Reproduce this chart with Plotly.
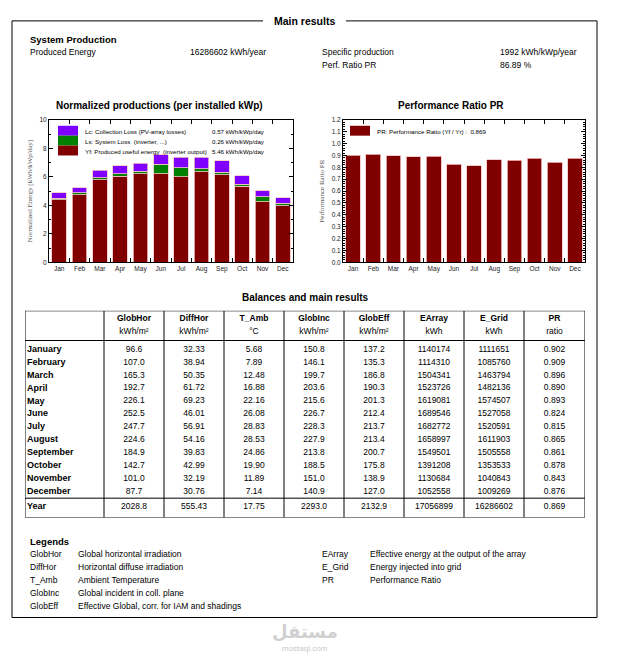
import plotly.graph_objects as go

W, H = 617, 667
OFF = 8                      # default page body margin
WF, HF = W - OFF, H - OFF    # figure size so that the page fits the window
FONT = "Liberation Sans"
SERIF = "Liberation Serif"

# ---------------- data ----------------
months = ["Jan", "Feb", "Mar", "Apr", "May", "Jun", "Jul", "Aug", "Sep", "Oct", "Nov", "Dec"]
yf = [4.39, 4.74, 5.78, 6.04, 6.21, 6.23, 6.00, 6.36, 6.14, 5.34, 4.24, 3.98]   # produced useful energy
ls = [0.11, 0.13, 0.16, 0.17, 0.18, 0.66, 0.64, 0.19, 0.18, 0.15, 0.37, 0.17]   # system loss
lc = [0.37, 0.35, 0.51, 0.58, 0.57, 0.67, 0.73, 0.81, 0.81, 0.59, 0.42, 0.39]   # collection loss
pr = [0.902, 0.909, 0.896, 0.890, 0.893, 0.824, 0.815, 0.865, 0.861, 0.878, 0.843, 0.876]

series_names = ["Lc: Collection Loss (PV-array losses)", "Ls: System Loss  (inverter, ...)",
                "Yf: Produced useful energy  (inverter output)"]
series_values = ["0.57 kWh/kWp/day", "0.26 kWh/kWp/day", "5.46 kWh/kWp/day"]
pr_legend = "PR: Performance Ratio (Yf / Yr) :  0.869"

row_labels = ["January", "February", "March", "April", "May", "June", "July", "August",
              "September", "October", "November", "December"]
year_label = "Year"
col_names = ["GlobHor", "DiffHor", "T_Amb", "GlobInc", "GlobEff", "EArray", "E_Grid", "PR"]
col_units = ["kWh/m²", "kWh/m²", "°C", "kWh/m²", "kWh/m²", "kWh", "kWh", "ratio"]
glob_hor = [96.6, 107.0, 165.3, 192.7, 226.1, 252.5, 247.7, 224.6, 184.9, 142.7, 101.0, 87.7]
diff_hor = [32.33, 38.94, 50.35, 61.72, 69.23, 46.01, 56.91, 54.16, 39.83, 42.99, 32.19, 30.76]
t_amb = [5.68, 7.89, 12.48, 16.88, 22.16, 26.08, 28.83, 28.53, 24.86, 19.90, 11.89, 7.14]
glob_inc = [150.8, 146.1, 199.7, 203.6, 215.6, 226.7, 228.3, 227.9, 213.8, 188.5, 151.0, 140.9]
glob_eff = [137.2, 135.3, 186.8, 190.3, 201.3, 212.4, 213.7, 213.4, 200.7, 175.8, 138.9, 127.0]
e_array = [1140174, 1114310, 1504341, 1523726, 1619081, 1689546, 1682772, 1658997,
           1549501, 1391208, 1130684, 1052558]
e_grid = [1111651, 1085760, 1463794, 1482136, 1574507, 1527058, 1520591, 1611903,
          1505558, 1353533, 1040843, 1009269]
pr_ratio = [0.902, 0.909, 0.896, 0.890, 0.893, 0.824, 0.815, 0.865, 0.861, 0.878, 0.843, 0.876]
year_values = [2028.8, 555.43, 17.75, 2293.0, 2132.9, 17056899, 16286602, 0.869]
decimals = [1, 2, 2, 1, 1, 0, 0, 3]

legend_left = [("GlobHor", "Global horizontal irradiation"),
               ("DiffHor", "Horizontal diffuse irradiation"),
               ("T_Amb", "Ambient Temperature"),
               ("GlobInc", "Global incident in coll. plane"),
               ("GlobEff", "Effective Global, corr. for IAM and shadings")]
legend_right = [("EArray", "Effective energy at the output of the array"),
                ("E_Grid", "Energy injected into grid"),
                ("PR", "Performance Ratio")]

summary_left = [("Produced Energy", "16286602 kWh/year")]
summary_right = [("Specific production", "1992 kWh/kWp/year"), ("Perf. Ratio PR", "86.89 %")]

C_YF, C_LS, C_LC = "#800000", "#008000", "#8000ff"
EDGE = "#f3c4c4"


# ---------------- helpers (page pixel -> paper) ----------------
def px(x):
    return (x - OFF) / WF


def py(y):
    return 1 - (y - OFF) / HF


annotations = []
shapes = []


def txt(x, y, s, size=9, bold=False, anchor="left", color="black", family=FONT):
    annotations.append(dict(
        x=px(x), y=py(y), xref="paper", yref="paper", showarrow=False,
        text=f"<b>{s}</b>" if bold else s, xanchor=anchor, yanchor="middle",
        font=dict(family=family, size=size, color=color)))


def line(x0, y0, x1, y1, width=1, color="black"):
    shapes.append(dict(type="line", xref="paper", yref="paper",
                       x0=px(x0), y0=py(y0), x1=px(x1), y1=py(y1),
                       line=dict(color=color, width=width)))


def rect(x0, y0, x1, y1, fill):
    shapes.append(dict(type="rect", xref="paper", yref="paper",
                       x0=px(x0), y0=py(y0), x1=px(x1), y1=py(y1),
                       fillcolor=fill, line=dict(width=0)))


fig = go.Figure()

# ---------------- normalized productions (stacked bars) ----------------
for name, vals, col in [(series_names[2], yf, C_YF), (series_names[1], ls, C_LS), (series_names[0], lc, C_LC)]:
    fig.add_trace(go.Bar(x=months, y=vals, name=name, marker=dict(color=col, line=dict(color=EDGE, width=0.8)),
                         xaxis="x", yaxis="y", showlegend=False))

# ---------------- performance ratio bars ----------------
fig.add_trace(go.Bar(x=months, y=pr, name="PR", marker=dict(color=C_YF, line=dict(color=EDGE, width=0.8)),
                     xaxis="x2", yaxis="y2", showlegend=False))

# ---------------- table (text on a hidden axis) ----------------
col_edges = [0, 79, 139, 199, 259, 319, 379, 439, 499, 560]
columns = [glob_hor, diff_hor, t_amb, glob_inc, glob_eff, e_array, e_grid, pr_ratio]
row_y = list(range(12)) + [12.2]
for j, (vals, dec) in enumerate(zip(columns, decimals)):
    cx = (col_edges[j + 1] + col_edges[j + 2]) / 2
    texts = [f"{v:.{dec}f}" for v in vals] + [f"{year_values[j]:.{dec}f}"]
    fig.add_trace(go.Scatter(x=[cx] * 13, y=row_y, mode="text", text=texts,
                             textfont=dict(family=FONT, size=8.5, color="black"),
                             xaxis="x3", yaxis="y3", showlegend=False, hoverinfo="skip"))
    fig.add_trace(go.Scatter(x=[cx, cx], y=[-2.4, -1.4], mode="text",
                             text=[f"<b>{col_names[j]}</b>", col_units[j]],
                             textfont=dict(family=FONT, size=8.5, color="black"),
                             xaxis="x3", yaxis="y3", showlegend=False, hoverinfo="skip"))
fig.add_trace(go.Scatter(x=[2] * 13, y=row_y, mode="text", textposition="middle right",
                         text=[f"<b>{r}</b>" for r in row_labels + [year_label]],
                         textfont=dict(family=FONT, size=9, color="black"),
                         xaxis="x3", yaxis="y3", showlegend=False, hoverinfo="skip"))

for xe in col_edges:
    shapes.append(dict(type="line", xref="x3", yref="y3", x0=xe, x1=xe, y0=-3, y1=13,
                       line=dict(color="black", width=1)))
for ye in [-3, -0.7, 11.5, 13]:
    shapes.append(dict(type="line", xref="x3", yref="y3", x0=0, x1=560, y0=ye, y1=ye,
                       line=dict(color="black", width=1)))

# ---------------- frame & texts ----------------
line(12, 17, 263, 17)
line(346, 17, 597, 17)
line(12, 17, 12, 620)
line(597, 17, 597, 620)
line(12, 620, 597, 620)
txt(304, 17, "Main results", size=10.5, bold=True, anchor="center")

txt(28, 36, "System Production", size=9.5, bold=True)
txt(28, 48, summary_left[0][0], size=8.5)
txt(188, 48, summary_left[0][1], size=8.5)
txt(320, 48, summary_right[0][0], size=8.5)
txt(498, 48, summary_right[0][1], size=8.5)
txt(320, 62, summary_right[1][0], size=8.5)
txt(498, 62, summary_right[1][1], size=8.5)

txt(159, 102, "Normalized productions (per installed kWp)", size=10, bold=True, anchor="center")
txt(451, 102, "Performance Ratio PR", size=10, bold=True, anchor="center")
txt(305, 297, "Balances and main results", size=10, bold=True, anchor="center")

# custom legend, left chart
for i, (col, nm, val) in enumerate(zip([C_LC, C_LS, C_YF], series_names, series_values)):
    rect(58, 123 + 10 * i, 78, 133 + 10 * i, col)
    txt(83, 128.5 + 10 * i, nm, size=6.2)
    txt(210, 128.5 + 10 * i, val, size=6.2)
# custom legend, right chart
rect(350, 123, 370, 133, C_YF)
txt(375, 128.5, pr_legend, size=6.2)

# legends section
txt(28, 543, "Legends", size=9.5, bold=True)
for i, (k, d) in enumerate(legend_left):
    txt(28, 556 + 13 * i, k, size=8.5)
    txt(76, 556 + 13 * i, d, size=8.5)
for i, (k, d) in enumerate(legend_right):
    txt(320, 556 + 13 * i, k, size=8.5)
    txt(368, 556 + 13 * i, d, size=8.5)

# watermark
txt(305, 634, "مستقل", size=18, bold=True, anchor="center", color="#d0d0d0", family="DejaVu Sans")
txt(305, 651, "mostaql.com", size=8, anchor="center", color="#c8c8c8")

axis_common = dict(showline=True, linecolor="black", linewidth=1, mirror="ticks",
                   ticks="inside", tickcolor="black", showgrid=False, zeroline=False,
                   tickfont=dict(family=FONT, size=6.5, color="#222"), fixedrange=True)

fig.update_layout(
    width=WF, height=HF, margin=dict(l=0, r=0, t=0, b=0),
    paper_bgcolor="white", plot_bgcolor="white",
    barmode="stack", bargap=0.28,
    showlegend=False,
    xaxis=dict(domain=[px(49), px(293)], anchor="y", type="category", categoryarray=months,
               tickson="boundaries", ticklen=4, tickangle=0, **axis_common),
    yaxis=dict(domain=[py(261), py(117)], anchor="x", range=[0, 10], dtick=2, ticklen=4,
               minor=dict(dtick=1, ticks="inside", ticklen=2, tickcolor="black"),
               title=dict(text="Normalized Energy [kWh/kWp/day]", standoff=6,
                          font=dict(family=SERIF, size=7, color="#555")), **axis_common),
    xaxis2=dict(domain=[px(343), px(585)], anchor="y2", type="category", categoryarray=months,
                tickson="boundaries", ticklen=4, tickangle=0, **axis_common),
    yaxis2=dict(domain=[py(261), py(117)], anchor="x2", range=[0, 1.2], dtick=0.1, tickformat=".1f",
                ticklen=4, minor=dict(dtick=0.02, ticks="inside", ticklen=2, tickcolor="black"),
                title=dict(text="Performance Ratio PR", standoff=6,
                           font=dict(family=SERIF, size=7, color="#555")), **axis_common),
    xaxis3=dict(domain=[px(25), px(585)], anchor="y3", range=[0, 560], visible=False, fixedrange=True),
    yaxis3=dict(domain=[py(519), py(310)], anchor="x3", range=[13, -3], visible=False, fixedrange=True),
    annotations=annotations, shapes=shapes,
)

fig.write_html("out.html")
